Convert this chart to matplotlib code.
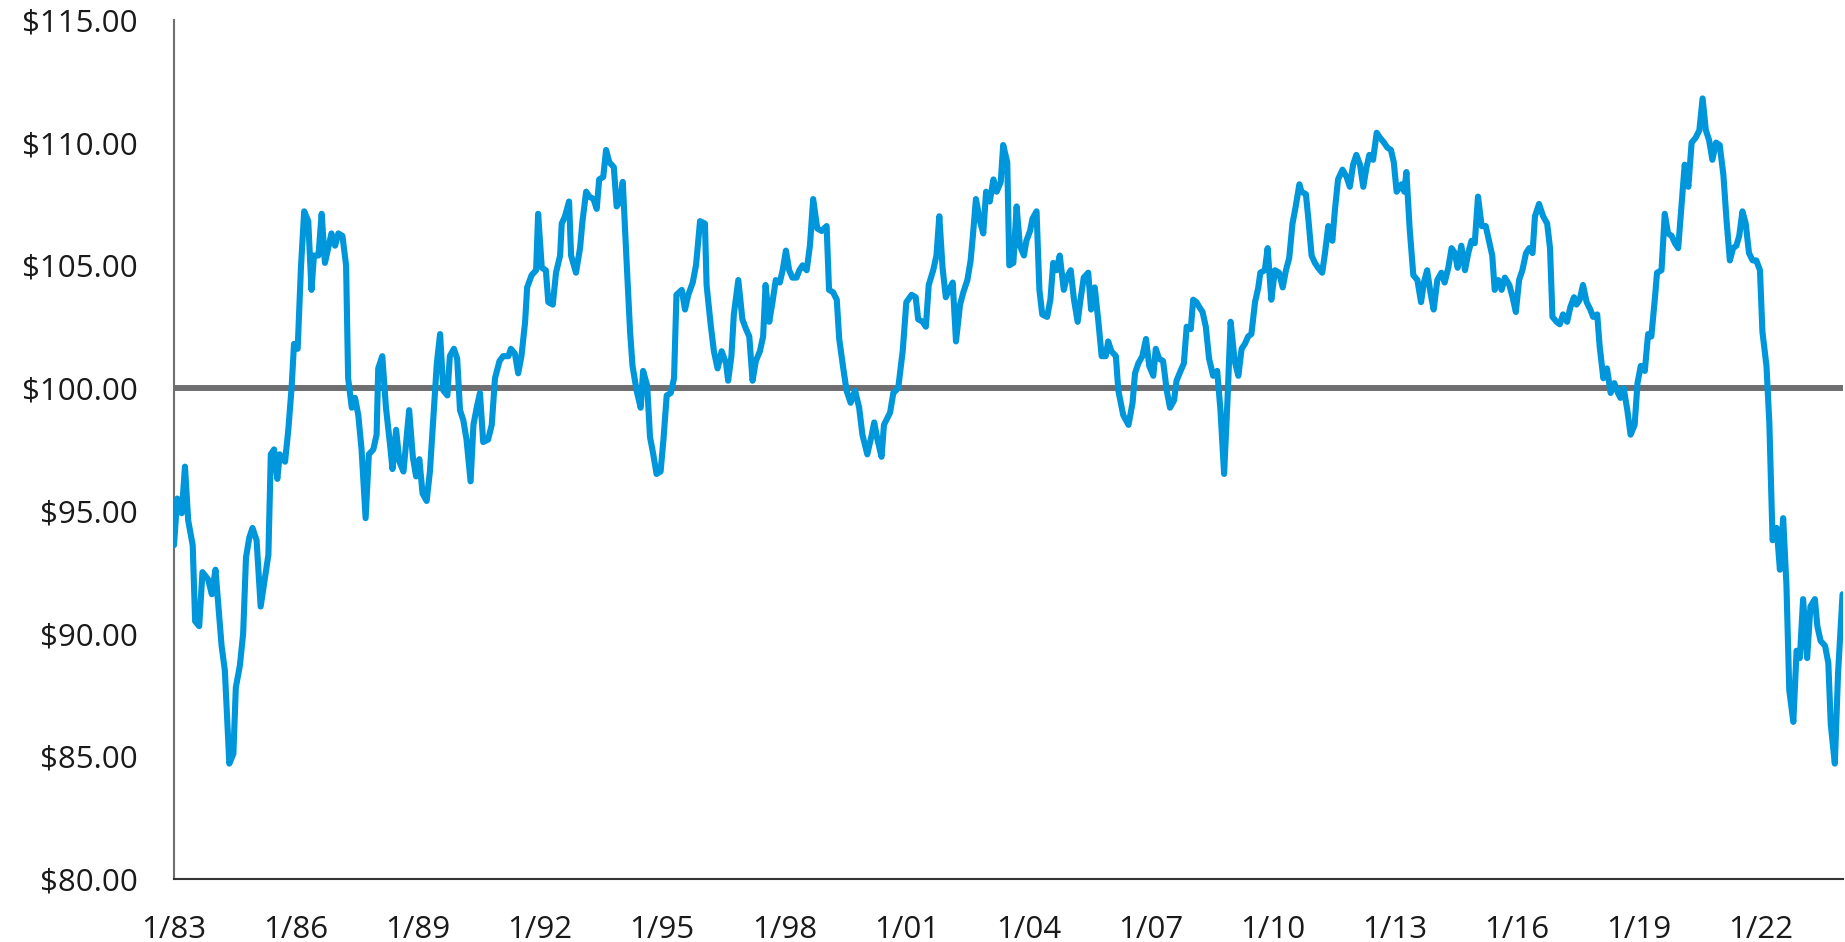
import matplotlib
matplotlib.use("Agg")
import matplotlib.pyplot as plt

# month-end value of $100 (x = decimal year)
dates = [
    1983.00, 1983.08, 1983.19, 1983.27, 1983.35, 1983.46, 1983.52, 1983.62, 1983.70, 1983.84,
    1983.93, 1984.02, 1984.17, 1984.25, 1984.36, 1984.46, 1984.52, 1984.62, 1984.70, 1984.77,
    1984.85, 1984.93, 1985.03, 1985.13, 1985.32, 1985.38, 1985.46, 1985.54, 1985.60, 1985.73,
    1985.81, 1985.89, 1985.95, 1986.04, 1986.12, 1986.20, 1986.30, 1986.38, 1986.44, 1986.55,
    1986.63, 1986.71, 1986.79, 1986.87, 1986.96, 1987.04, 1987.14, 1987.23, 1987.28, 1987.37,
    1987.45, 1987.53, 1987.61, 1987.71, 1987.79, 1987.90, 1987.98, 1988.02, 1988.12, 1988.21,
    1988.31, 1988.37, 1988.46, 1988.54, 1988.64, 1988.78, 1988.87, 1988.95, 1989.03, 1989.11,
    1989.21, 1989.29, 1989.37, 1989.46, 1989.54, 1989.62, 1989.72, 1989.78, 1989.88, 1989.96,
    1990.03, 1990.11, 1990.19, 1990.29, 1990.36, 1990.44, 1990.52, 1990.60, 1990.72, 1990.81,
    1990.89, 1991.00, 1991.09, 1991.22, 1991.28, 1991.38, 1991.46, 1991.54, 1991.63, 1991.68,
    1991.79, 1991.90, 1991.95, 1992.04, 1992.14, 1992.20, 1992.31, 1992.39, 1992.49, 1992.53,
    1992.61, 1992.71, 1992.76, 1992.88, 1992.98, 1993.04, 1993.13, 1993.21, 1993.31, 1993.39,
    1993.45, 1993.55, 1993.62, 1993.70, 1993.81, 1993.88, 1993.96, 1994.03, 1994.12, 1994.21,
    1994.27, 1994.37, 1994.47, 1994.53, 1994.63, 1994.70, 1994.78, 1994.86, 1994.96, 1995.03,
    1995.11, 1995.21, 1995.29, 1995.35, 1995.48, 1995.56, 1995.64, 1995.75, 1995.83, 1995.93,
    1996.05, 1996.09, 1996.19, 1996.27, 1996.36, 1996.46, 1996.57, 1996.62, 1996.70, 1996.76,
    1996.87, 1996.97, 1997.06, 1997.14, 1997.22, 1997.30, 1997.40, 1997.48, 1997.54, 1997.63,
    1997.71, 1997.79, 1997.89, 1997.96, 1998.04, 1998.12, 1998.20, 1998.30, 1998.37, 1998.45,
    1998.55, 1998.63, 1998.71, 1998.81, 1998.92, 1999.04, 1999.10, 1999.20, 1999.29, 1999.35,
    1999.45, 1999.53, 1999.63, 1999.74, 1999.84, 1999.92, 2000.04, 2000.15, 2000.21, 2000.29,
    2000.39, 2000.45, 2000.51, 2000.60, 2000.68, 2000.80, 2000.91, 2001.00, 2001.13, 2001.23,
    2001.29, 2001.40, 2001.48, 2001.55, 2001.66, 2001.74, 2001.81, 2001.89, 2001.97, 2002.05,
    2002.14, 2002.22, 2002.32, 2002.40, 2002.50, 2002.58, 2002.64, 2002.71, 2002.81, 2002.89,
    2002.96, 2003.05, 2003.14, 2003.22, 2003.32, 2003.38, 2003.48, 2003.53, 2003.63, 2003.71,
    2003.79, 2003.89, 2003.95, 2004.04, 2004.10, 2004.20, 2004.27, 2004.34, 2004.46, 2004.54,
    2004.61, 2004.69, 2004.77, 2004.87, 2004.94, 2005.04, 2005.12, 2005.21, 2005.28, 2005.36,
    2005.47, 2005.54, 2005.63, 2005.72, 2005.80, 2005.90, 2005.96, 2006.04, 2006.15, 2006.21,
    2006.33, 2006.46, 2006.56, 2006.62, 2006.70, 2006.80, 2006.89, 2006.97, 2007.07, 2007.13,
    2007.21, 2007.31, 2007.40, 2007.48, 2007.58, 2007.64, 2007.74, 2007.82, 2007.89, 2007.99,
    2008.05, 2008.13, 2008.20, 2008.28, 2008.36, 2008.44, 2008.54, 2008.64, 2008.72, 2008.81,
    2008.89, 2008.97, 2009.07, 2009.16, 2009.24, 2009.32, 2009.40, 2009.48, 2009.57, 2009.65,
    2009.70, 2009.81, 2009.88, 2009.97, 2010.06, 2010.16, 2010.25, 2010.33, 2010.41, 2010.49,
    2010.57, 2010.66, 2010.71, 2010.82, 2010.88, 2010.96, 2011.04, 2011.12, 2011.22, 2011.29,
    2011.37, 2011.47, 2011.53, 2011.61, 2011.72, 2011.82, 2011.90, 2011.98, 2012.06, 2012.15,
    2012.23, 2012.31, 2012.38, 2012.47, 2012.56, 2012.64, 2012.74, 2012.82, 2012.91, 2012.98,
    2013.05, 2013.17, 2013.24, 2013.29, 2013.37, 2013.46, 2013.56, 2013.65, 2013.72, 2013.80,
    2013.88, 2013.96, 2014.05, 2014.15, 2014.23, 2014.32, 2014.40, 2014.48, 2014.55, 2014.64,
    2014.73, 2014.81, 2014.89, 2014.97, 2015.05, 2015.14, 2015.24, 2015.32, 2015.40, 2015.46,
    2015.55, 2015.63, 2015.71, 2015.82, 2015.90, 2015.98, 2016.06, 2016.14, 2016.23, 2016.31,
    2016.39, 2016.45, 2016.55, 2016.65, 2016.75, 2016.82, 2016.88, 2016.98, 2017.06, 2017.14,
    2017.24, 2017.32, 2017.41, 2017.47, 2017.55, 2017.63, 2017.72, 2017.81, 2017.88, 2017.98,
    2018.04, 2018.13, 2018.22, 2018.31, 2018.40, 2018.49, 2018.55, 2018.63, 2018.72, 2018.80,
    2018.90, 2018.97, 2019.05, 2019.15, 2019.23, 2019.31, 2019.40, 2019.45, 2019.56, 2019.64,
    2019.72, 2019.81, 2019.89, 2019.97, 2020.05, 2020.13, 2020.22, 2020.30, 2020.40, 2020.49,
    2020.57, 2020.65, 2020.73, 2020.81, 2020.90, 2020.99, 2021.08, 2021.16, 2021.24, 2021.32,
    2021.40, 2021.47, 2021.55, 2021.63, 2021.71, 2021.80, 2021.89, 2021.98, 2022.04, 2022.14,
    2022.21, 2022.29, 2022.39, 2022.47, 2022.55, 2022.63, 2022.70, 2022.80, 2022.88, 2022.96,
    2023.04, 2023.14, 2023.22, 2023.33, 2023.39, 2023.47, 2023.58, 2023.66, 2023.72, 2023.82,
    2023.90, 2024.01,
]

values = [
    93.6, 95.5, 94.9, 96.8, 94.6, 93.6, 90.5, 90.3, 92.5, 92.2,
    91.6, 92.6, 89.5, 88.5, 84.7, 85.1, 87.8, 88.7, 90.0, 93.1,
    93.9, 94.3, 93.8, 91.1, 93.2, 97.3, 97.5, 96.3, 97.3, 97.0,
    98.3, 100.0, 101.8, 101.6, 104.9, 107.2, 106.8, 104.0, 105.4, 105.4,
    107.1, 105.1, 105.7, 106.3, 105.8, 106.3, 106.2, 105.0, 100.4, 99.2,
    99.6, 98.9, 97.5, 94.7, 97.3, 97.5, 98.1, 100.8, 101.3, 99.2,
    97.7, 96.7, 98.3, 97.0, 96.6, 99.1, 97.2, 96.4, 97.1, 95.7,
    95.4, 96.6, 98.7, 101.0, 102.2, 99.9, 99.7, 101.3, 101.6, 101.2,
    99.1, 98.7, 97.9, 96.2, 98.5, 99.2, 99.8, 97.8, 97.9, 98.5,
    100.4, 101.1, 101.3, 101.3, 101.6, 101.4, 100.6, 101.3, 102.7, 104.1,
    104.6, 104.8, 107.1, 104.9, 104.8, 103.5, 103.4, 104.7, 105.4, 106.7,
    107.0, 107.6, 105.4, 104.7, 105.7, 106.8, 108.0, 107.8, 107.7, 107.3,
    108.5, 108.6, 109.7, 109.2, 109.0, 107.4, 107.6, 108.4, 105.3, 102.3,
    100.9, 99.9, 99.2, 100.7, 100.1, 98.0, 97.3, 96.5, 96.6, 97.9,
    99.7, 99.8, 100.4, 103.8, 104.0, 103.2, 103.8, 104.3, 105.0, 106.8,
    106.7, 104.2, 102.6, 101.5, 100.8, 101.5, 101.0, 100.3, 101.3, 103.0,
    104.4, 102.8, 102.4, 102.1, 100.3, 101.1, 101.5, 102.1, 104.2, 102.7,
    103.5, 104.4, 104.3, 104.8, 105.6, 104.8, 104.5, 104.5, 104.8, 105.0,
    104.8, 105.8, 107.7, 106.5, 106.4, 106.6, 104.0, 103.9, 103.6, 102.0,
    100.8, 99.9, 99.4, 99.9, 99.2, 98.1, 97.3, 98.1, 98.6, 97.9,
    97.2, 98.5, 98.7, 99.0, 99.8, 100.0, 101.5, 103.5, 103.8, 103.7,
    102.8, 102.7, 102.5, 104.2, 104.8, 105.4, 107.0, 104.9, 103.7, 104.0,
    104.3, 101.9, 103.4, 103.9, 104.4, 105.2, 106.3, 107.7, 106.8, 106.3,
    108.0, 107.6, 108.5, 108.0, 108.4, 109.9, 109.2, 105.0, 105.1, 107.4,
    105.8, 105.4, 106.0, 106.4, 106.9, 107.2, 104.0, 103.0, 102.9, 103.6,
    105.1, 104.8, 105.4, 104.0, 104.5, 104.8, 103.6, 102.7, 103.6, 104.5,
    104.7, 103.2, 104.1, 102.7, 101.3, 101.3, 101.9, 101.5, 101.3, 99.9,
    98.9, 98.5, 99.4, 100.6, 101.0, 101.3, 102.0, 100.9, 100.5, 101.6,
    101.2, 101.1, 99.9, 99.2, 99.5, 100.3, 100.7, 101.0, 102.5, 102.4,
    103.6, 103.5, 103.3, 103.1, 102.5, 101.2, 100.5, 100.7, 99.1, 96.5,
    99.4, 102.7, 101.1, 100.5, 101.6, 101.8, 102.1, 102.2, 103.5, 104.1,
    104.7, 104.8, 105.7, 103.6, 104.8, 104.7, 104.1, 104.8, 105.3, 106.7,
    107.4, 108.3, 108.0, 107.9, 106.9, 105.4, 105.1, 104.9, 104.7, 105.5,
    106.6, 106.0, 107.2, 108.5, 108.9, 108.6, 108.2, 109.1, 109.5, 109.1,
    108.2, 109.0, 109.5, 109.3, 110.4, 110.2, 110.0, 109.8, 109.7, 109.2,
    108.0, 108.3, 108.0, 108.8, 106.5, 104.6, 104.4, 103.5, 104.3, 104.8,
    103.9, 103.2, 104.4, 104.7, 104.3, 104.9, 105.7, 105.5, 104.9, 105.8,
    104.8, 105.5, 106.0, 105.9, 107.8, 106.6, 106.6, 106.0, 105.4, 104.0,
    104.4, 104.0, 104.5, 104.2, 103.7, 103.1, 104.4, 104.8, 105.5, 105.7,
    105.5, 107.0, 107.5, 107.0, 106.7, 105.7, 102.9, 102.7, 102.6, 103.0,
    102.7, 103.3, 103.7, 103.4, 103.6, 104.2, 103.5, 103.2, 102.9, 103.0,
    101.7, 100.4, 100.8, 99.8, 100.2, 99.8, 99.6, 100.0, 99.1, 98.1,
    98.5, 100.2, 100.9, 100.7, 102.2, 102.1, 103.7, 104.7, 104.8, 107.1,
    106.3, 106.2, 105.9, 105.7, 107.4, 109.1, 108.2, 110.0, 110.2, 110.5,
    111.8, 110.5, 110.1, 109.3, 110.0, 109.9, 108.7, 106.8, 105.2, 105.7,
    105.8, 106.2, 107.2, 106.7, 105.5, 105.2, 105.2, 104.8, 102.3, 100.9,
    98.6, 93.8, 94.3, 92.6, 94.7, 92.0, 87.7, 86.4, 89.3, 89.0,
    91.4, 89.0, 91.1, 91.4, 90.3, 89.7, 89.5, 88.8, 86.3, 84.7,
    88.4, 91.6,
]

baseline = 100.0
tick_years = list(range(1983, 2023, 3))
tick_labels = ["1/%02d" % (y % 100) for y in tick_years]
y_ticks = [80, 85, 90, 95, 100, 105, 110, 115]
y_labels = ["$%.2f" % v for v in y_ticks]

plt.rcParams["font.family"] = ["Open Sans", "DejaVu Sans"]

fig = plt.figure(figsize=(18.45, 9.42), dpi=100)
ax = fig.add_axes([0.0943, 0.0669, 0.9046, 0.912])

ax.axhline(baseline, color="#6f6f71", lw=4.3, zorder=2)
ax.plot(dates, values, color="#0096db", lw=4.4, solid_joinstyle="round",
        solid_capstyle="round", zorder=3)

ax.set_xlim(1983.0, 2024.02)
ax.set_ylim(80, 115)
ax.set_xticks(tick_years)
ax.set_xticklabels(tick_labels)
ax.set_yticks(y_ticks)
ax.set_yticklabels(y_labels)
ax.tick_params(axis="both", length=0, labelsize=22.5, colors="#1a1a1a")
ax.tick_params(axis="y", pad=26)
ax.tick_params(axis="x", pad=26)

for s in ["top", "right"]:
    ax.spines[s].set_visible(False)
ax.spines["left"].set_color("#6f6f71")
ax.spines["left"].set_linewidth(1.5)
ax.spines["bottom"].set_color("#333333")
ax.spines["bottom"].set_linewidth(1.5)

fig.savefig("out.png", dpi=100)
